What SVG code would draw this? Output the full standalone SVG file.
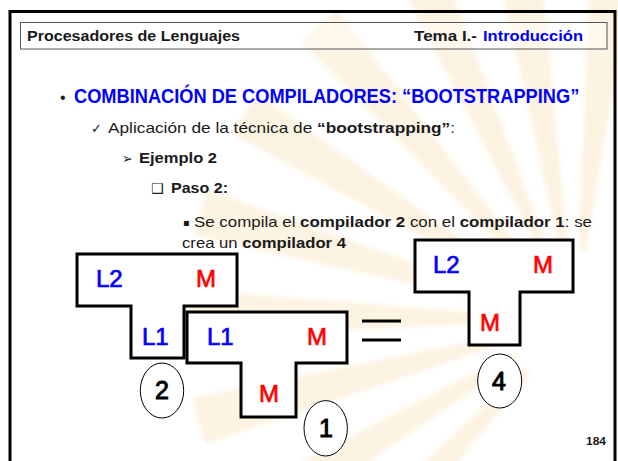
<svg xmlns="http://www.w3.org/2000/svg" xmlns:xlink="http://www.w3.org/1999/xlink" width="618" height="461" viewBox="0 0 618 461">
<defs>
<radialGradient id="rayGrad" gradientUnits="userSpaceOnUse" cx="575" cy="320" r="380">
<stop offset="0.2" stop-color="#ffffff"/>
<stop offset="0.5" stop-color="#fdf2e0"/>
<stop offset="0.8" stop-color="#fbe6c2"/>
<stop offset="1" stop-color="#fdf3e2"/>
</radialGradient>
<filter id="soft" x="-10%" y="-10%" width="120%" height="120%">
<feGaussianBlur stdDeviation="2"/>
</filter>
<polygon id="ray" points="-70,-4 -390,-24 -390,24 -70,4"/>
<style>
.t{font-family:"Liberation Sans",Arial,sans-serif;fill:#1a1a1a}
.b{font-weight:bold}
.sym{font-family:"DejaVu Sans",sans-serif;fill:#1a1a1a}
.shape{fill:#ffffff;stroke:#000;stroke-width:3;stroke-linejoin:miter}
.lab{font-family:"Liberation Sans",Arial,sans-serif;font-size:24px;stroke-width:0.7}
.blue{fill:#0000ff;stroke:#0000ff}
.red{fill:#ff0000;stroke:#ff0000}
.circ{fill:#ffffff;stroke:#000;stroke-width:1}
.num{font-family:"Liberation Sans",Arial,sans-serif;font-size:25px;fill:#000;stroke:#000;stroke-width:1;text-anchor:middle}
</style>
</defs>
<rect width="618" height="461" fill="#ffffff"/>
<g id="sunburst" fill="url(#rayGrad)" filter="url(#soft)">
<use xlink:href="#ray" href="#ray" transform="translate(575,320) rotate(96)"/>
<use xlink:href="#ray" href="#ray" transform="translate(575,320) rotate(81)"/>
<use xlink:href="#ray" href="#ray" transform="translate(575,320) rotate(66)"/>
<use xlink:href="#ray" href="#ray" transform="translate(575,320) rotate(49)"/>
<use xlink:href="#ray" href="#ray" transform="translate(575,320) rotate(32)"/>
<use xlink:href="#ray" href="#ray" transform="translate(575,320) rotate(16)"/>
<use xlink:href="#ray" href="#ray" transform="translate(575,320) rotate(1)"/>
<use xlink:href="#ray" href="#ray" transform="translate(575,320) rotate(-15)"/>
<use xlink:href="#ray" href="#ray" transform="translate(575,320) rotate(-31)"/>
<use xlink:href="#ray" href="#ray" transform="translate(575,320) rotate(-47)"/>
</g>
<rect id="frame" x="10" y="11.5" width="605" height="460" fill="none" stroke="#000" stroke-width="3"/>
<g id="header">
<rect x="20.5" y="22.5" width="586.5" height="26.5" fill="#ffffff" fill-opacity="0.4" stroke="#555" stroke-width="1"/>
<text class="t b" x="27" y="41" font-size="14.5" textLength="213" lengthAdjust="spacingAndGlyphs">Procesadores de Lenguajes</text>
<text class="t b" x="414" y="41" font-size="14.5" textLength="63" lengthAdjust="spacingAndGlyphs">Tema I.-</text>
<text class="t b" x="483" y="41" font-size="14.5" textLength="100" lengthAdjust="spacingAndGlyphs" style="fill:#0000ff">Introducción</text>
</g>
<g id="text">
<text class="t" x="60" y="103" font-size="16">•</text>
<text class="t b" transform="translate(74,103) scale(0.912,1)" x="0" y="0" font-size="20" style="fill:#0000ff">COMBINACIÓN DE COMPILADORES: “BOOTSTRAPPING”</text>
<text class="sym" x="91" y="133" font-size="13">✓</text>
<text class="t" x="108" y="133" font-size="15" textLength="347" lengthAdjust="spacingAndGlyphs">Aplicación de la técnica de  <tspan class="b">“bootstrapping”</tspan>:</text>
<text class="sym" x="122" y="163" font-size="13">➢</text>
<text class="t b" x="139" y="163" font-size="15" textLength="78" lengthAdjust="spacingAndGlyphs">Ejemplo 2</text>
<text class="sym" x="151" y="193" font-size="14">❑</text>
<text class="t b" x="171" y="193" font-size="15" textLength="57" lengthAdjust="spacingAndGlyphs">Paso 2:</text>
<text class="sym" x="183" y="226" font-size="10">▪</text>
<text class="t" x="194" y="227" font-size="14.5" textLength="398" lengthAdjust="spacingAndGlyphs">Se compila el <tspan class="b">compilador 2</tspan> con el <tspan class="b">compilador 1</tspan>: se</text>
<text class="t" x="182" y="248" font-size="14.5" textLength="164" lengthAdjust="spacingAndGlyphs">crea un <tspan class="b">compilador 4</tspan></text>
<text class="t b" x="586" y="445" font-size="11" textLength="20" lengthAdjust="spacingAndGlyphs">184</text>
</g>
<g id="compilador2">
<path class="shape" d="M77,254 H237 V306 H184 V358 H131 V306 H77 Z"/>
<text class="lab blue" x="96" y="287">L2</text>
<text class="lab red" x="196" y="287">M</text>
<text class="lab blue" x="142" y="345">L1</text>
<ellipse class="circ" cx="162" cy="390.5" rx="21.7" ry="27.5"/>
<text class="num" x="162" y="399">2</text>
</g>
<g id="compilador1">
<path class="shape" d="M187,312 H347 V363 H296 V417 H241 V363 H187 Z"/>
<text class="lab blue" x="207" y="345">L1</text>
<text class="lab red" x="307" y="345">M</text>
<text class="lab red" x="259" y="402">M</text>
<ellipse class="circ" cx="325.7" cy="428.3" rx="21.7" ry="27.7"/>
<text class="num" x="326" y="437">1</text>
</g>
<g id="connectors">
<g id="igual" stroke="#000" stroke-width="3">
<line x1="362" y1="321" x2="401" y2="321"/>
<line x1="362" y1="340" x2="401" y2="340"/>
</g>
</g>
<g id="compilador4">
<path class="shape" d="M415,240 H573 V292 H520 V345 H469 V292 H415 Z"/>
<text class="lab blue" x="433" y="273">L2</text>
<text class="lab red" x="533" y="273">M</text>
<text class="lab red" x="480" y="331">M</text>
<ellipse class="circ" cx="499.7" cy="381" rx="22" ry="27"/>
<text class="num" x="499" y="390">4</text>
</g>
</svg>
